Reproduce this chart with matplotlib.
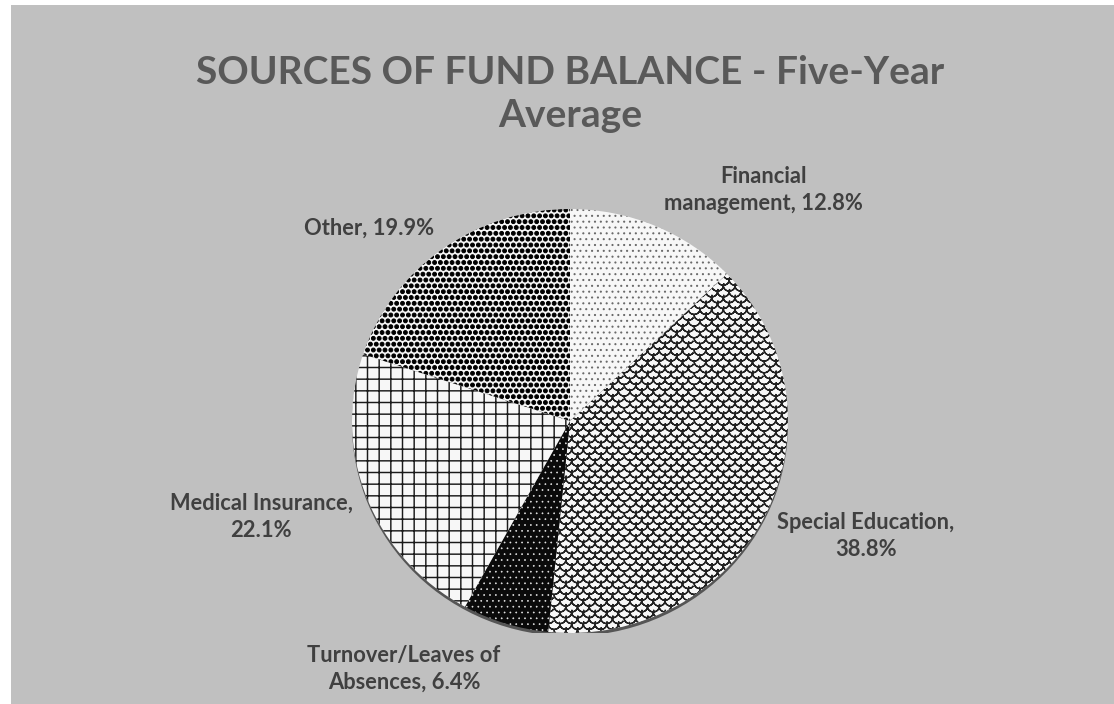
import numpy as np
import matplotlib
matplotlib.use("Agg")
import matplotlib.pyplot as plt
import matplotlib.hatch as mhatch
from matplotlib.path import Path
from matplotlib.patches import Rectangle, Ellipse

# data (clockwise from 12 o'clock)
categories = ["Financial management", "Special Education",
              "Turnover/Leaves of Absences", "Medical Insurance", "Other"]
shares = [12.8, 38.8, 6.4, 22.1, 19.9]
label_text = ["Financial\nmanagement, 12.8%", "Special Education,\n38.8%",
              "Turnover/Leaves of\nAbsences, 6.4%", "Medical Insurance,\n22.1%",
              "Other, 19.9%"]

# styling per slice
faces = ["#f7f7f7", "#f7f7f7", "#0a0a0a", "#f7f7f7", "#f7f7f7"]
hatch_cols = ["#6a6a6a", "#222222", "#e8e8e8", "#1a1a1a", "#000000"]
hatches = ["..", "*", "..", "+", "OO"]
hatch_lw = [1.0, 1.4, 0.6, 1.5, 1.0]
# label centres in pixels (x, y from top)
label_pos = [(763, 190), (866, 536), (404, 669), (261, 517), (369, 228)]


# fish-scale hatch, registered in place of the star hatch
class ScaleHatch(mhatch.HatchPatternBase):
    seg = 10

    def __init__(self, hatch, density):
        self.num_rows = hatch.count('*') * density
        n = self.num_rows
        self.per = 2 * self.seg + 1
        self.num_vertices = (2 * n + 1) * (n + 2) * self.per if n else 0

    def set_vertices_and_codes(self, vertices, codes):
        n = self.num_rows
        r = 0.5 / n
        t = np.linspace(np.pi, 2 * np.pi, self.seg + 1)
        t = np.concatenate([t, t[-2::-1]])  # out and back: no filled area
        arc = np.column_stack([r * np.cos(t), 0.9 * r * np.sin(t)])
        k = 0
        for row in range(2 * n + 1):
            y = row / (2 * n)
            shift = 0 if row % 2 == 0 else r
            for col in range(n + 2):
                x = col / n - shift
                vertices[k:k + self.per] = arc + (x, y)
                codes[k] = Path.MOVETO
                codes[k + 1:k + self.per] = Path.LINETO
                k += self.per


# big filled dots, registered in place of the large-circle hatch
class BigDots(mhatch.LargeCircles):
    size = 0.33
    filled = True


for i, h in enumerate(mhatch._hatch_types):
    if h is mhatch.Stars:
        mhatch._hatch_types[i] = ScaleHatch
    elif h is mhatch.LargeCircles:
        mhatch._hatch_types[i] = BigDots

W, H, DPI = 1114, 704, 70
plt.rcParams['font.family'] = ['Lato', 'DejaVu Sans']
fig = plt.figure(figsize=(W / DPI, H / DPI), dpi=DPI, facecolor="#c0c0c0")

# white frame at top / left
fig.add_artist(Rectangle((0, 0), 11 / W, 1, transform=fig.transFigure,
                         facecolor="white", edgecolor="none"))
fig.add_artist(Rectangle((0, 1 - 5 / H), 1, 5 / H, transform=fig.transFigure,
                         facecolor="white", edgecolor="none"))

cx, cy, rx, ry = 570, 421, 218, 212
ax = fig.add_axes([(cx - rx) / W, (H - cy - ry) / H, 2 * rx / W, 2 * ry / H])
ax.add_patch(Ellipse((0, -0.015), 2, 2, facecolor="#555555", edgecolor="none", zorder=0))
wedges, _ = ax.pie(shares, startangle=90, counterclock=False, radius=1,
                   wedgeprops=dict(linewidth=0))
for w, fc, hc, hp, lw in zip(wedges, faces, hatch_cols, hatches, hatch_lw):
    w.set_facecolor(fc)
    w.set_edgecolor(hc)
    w.set_linewidth(0)
    w.set_hatch(hp)
    if hasattr(w, "set_hatch_linewidth"):
        w.set_hatch_linewidth(lw)
    w.set_zorder(2)
ax.set_aspect('auto')
ax.set_xlim(-1, 1)
ax.set_ylim(-1, 1)
ax.axis('off')

fig.text(570 / W, 1 - 94 / H, "SOURCES OF FUND BALANCE - Five-Year\nAverage",
         ha="center", va="center", fontsize=40, fontweight="bold",
         color="#595959", linespacing=1.3)

for txt, (px, py) in zip(label_text, label_pos):
    fig.text(px / W, 1 - py / H, txt, ha="center", va="center", fontsize=22.5,
             fontweight="bold", color="#404040", linespacing=1.35)

fig.savefig("out.png", dpi=DPI, facecolor=fig.get_facecolor())
